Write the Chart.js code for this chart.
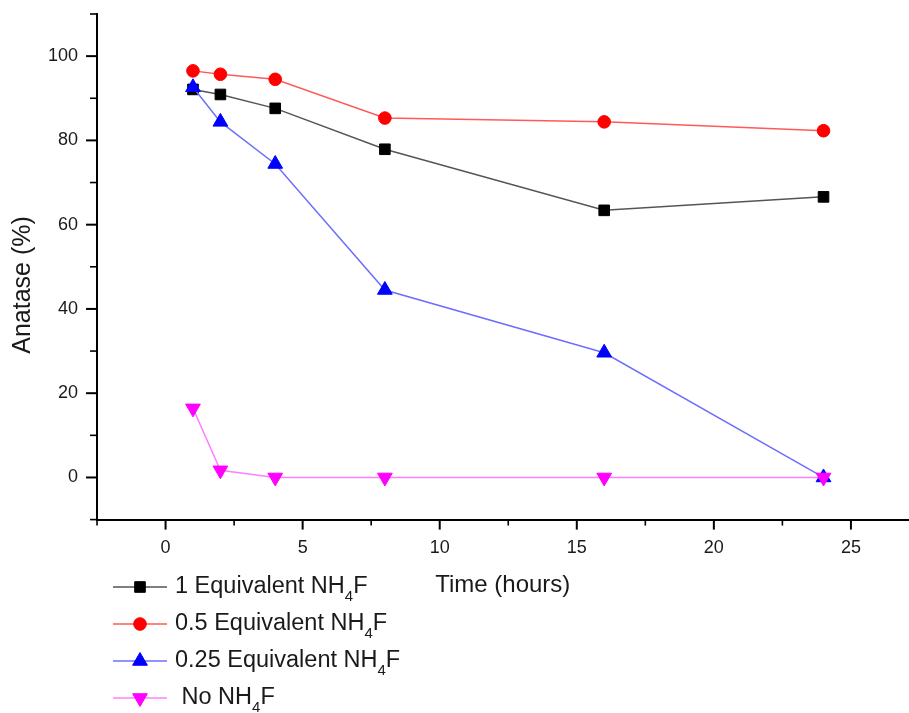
<!DOCTYPE html>
<html>
<head>
<meta charset="utf-8">
<script src="https://cdn.jsdelivr.net/npm/chart.js@4/dist/chart.umd.min.js"></script>
<style>
  html, body { margin: 0; padding: 0; background: #fff; overflow: hidden; }
  #wrap { width: 918px; height: 713px; position: relative; }
</style>
</head>
<body>
<div id="wrap"><canvas id="anataseChart"></canvas></div>
<script>
// time points (hours)
var hours = [1, 2, 4, 8, 16, 24];
// anatase (%) for each NH4F amount
var equiv1 = [92.1, 90.9, 87.6, 77.9, 63.4, 66.6];
var equiv05 = [96.5, 95.7, 94.5, 85.3, 84.4, 82.3];
var equiv025 = [92.6, 84.4, 74.4, 44.5, 29.6, 0];
var noNH4F = [16.4, 1.7, 0, 0, 0, 0];

var seriesNames = ['1 Equivalent NH', '0.5 Equivalent NH', '0.25 Equivalent NH', ' No NH'];
var xLabelStep = 5;   // x tick labels every 5 h
var yLabelStep = 20;  // y tick labels every 20 %

var FONT = '"Liberation Sans", Arial, sans-serif';

function pts(ys) {
    return hours.map(function (h, i) { return { x: h, y: ys[i] }; });
}

// minor/major tick marks drawn from the scales' own ticks, plus y title
var tickMarks = {
    id: 'tickMarks',
    afterDraw: function (chart) {
        var c = chart.ctx, a = chart.chartArea;
        c.save();
        c.strokeStyle = '#000';
        chart.scales.x.ticks.forEach(function (t) {
            var px = chart.scales.x.getPixelForValue(t.value);
            var major = Math.abs(t.value % xLabelStep) < 1e-6;
            c.lineWidth = major ? 2 : 1.6;
            c.beginPath();
            c.moveTo(px, a.bottom);
            c.lineTo(px, a.bottom + (major ? 10 : 6));
            c.stroke();
        });
        chart.scales.y.ticks.forEach(function (t) {
            var py = chart.scales.y.getPixelForValue(t.value);
            var major = Math.abs(t.value % yLabelStep) < 1e-6;
            c.lineWidth = major ? 2 : 1.6;
            c.beginPath();
            c.moveTo(a.left, py);
            c.lineTo(a.left - (major ? 11 : 7), py);
            c.stroke();
        });
        // y axis title sits a bit below the middle in the original
        c.translate(23, 285);
        c.rotate(-Math.PI / 2);
        c.fillStyle = '#1a1a1a';
        c.font = '25px ' + FONT;
        c.textAlign = 'center';
        c.textBaseline = 'middle';
        c.fillText('Anatase (%)', 0, 0);
        c.restore();
    }
};

// legend with NH4F subscript
var subLegend = {
    id: 'subLegend',
    afterDraw: function (chart) {
        var c = chart.ctx;
        var rows = [587, 624, 661, 698];
        c.save();
        chart.data.datasets.forEach(function (ds, i) {
            var y = rows[i];
            c.strokeStyle = ds.borderColor;
            c.lineWidth = 1.5;
            c.beginPath();
            c.moveTo(113, y);
            c.lineTo(167, y);
            c.stroke();
            c.fillStyle = ds.pointBackgroundColor;
            c.strokeStyle = ds.pointBackgroundColor;
            c.lineWidth = 1;
            Chart.helpers.drawPoint(c, {
                pointStyle: ds.pointStyle,
                rotation: ds.pointRotation || 0,
                radius: ds.pointRadius,
                borderWidth: 1
            }, 140, y);
            c.fillStyle = '#1a1a1a';
            c.textBaseline = 'middle';
            c.textAlign = 'left';
            c.font = '23.5px ' + FONT;
            var x = 175;
            c.fillText(seriesNames[i], x, y);
            x += c.measureText(seriesNames[i]).width;
            c.font = '15px ' + FONT;
            c.fillText('4', x, y + 10);
            x += c.measureText('4').width;
            c.font = '23.5px ' + FONT;
            c.fillText('F', x, y);
        });
        c.restore();
    }
};

var ctx = document.getElementById('anataseChart').getContext('2d');
var anataseChart = new Chart(ctx, {
    type: 'line',
    data: {
        datasets: [{
            label: '1 Equivalent NH4F',
            data: pts(equiv1),
            borderColor: '#555555',
            pointBackgroundColor: '#000000',
            pointBorderColor: '#000000',
            pointStyle: 'rect',
            pointRadius: 7.5,
            order: 3
        }, {
            label: '0.5 Equivalent NH4F',
            data: pts(equiv05),
            borderColor: '#ff5a5a',
            pointBackgroundColor: '#ff0000',
            pointBorderColor: '#ff0000',
            pointStyle: 'circle',
            pointRadius: 6.3,
            order: 2
        }, {
            label: '0.25 Equivalent NH4F',
            data: pts(equiv025),
            borderColor: '#6f6fff',
            pointBackgroundColor: '#0000ff',
            pointBorderColor: '#0000ff',
            pointStyle: 'triangle',
            pointRadius: 8.5,
            order: 1
        }, {
            label: 'No NH4F',
            data: pts(noNH4F),
            borderColor: '#ff80ff',
            pointBackgroundColor: '#ff00ff',
            pointBorderColor: '#ff00ff',
            pointStyle: 'triangle',
            pointRotation: 180,
            pointRadius: 8.5,
            order: 0
        }]
    },
    options: {
        responsive: true,
        maintainAspectRatio: false,
        animation: false,
        elements: {
            line: { borderWidth: 1.5, tension: 0 },
            point: { borderWidth: 1, hoverRadius: 8 }
        },
        layout: { padding: { left: 0, right: 0, top: 14, bottom: 113 } },
        plugins: {
            legend: { display: false },
            tooltip: { enabled: false }
        },
        scales: {
            x: {
                type: 'linear',
                min: -2.5,
                max: 27.1,
                border: { display: true, color: '#000', width: 2 },
                // tick marks are drawn by tickMarks; this length only keeps the room
                grid: { drawOnChartArea: false, tickColor: 'rgba(0,0,0,0)', tickLength: 18 },
                ticks: {
                    stepSize: 2.5,
                    includeBounds: false,
                    autoSkip: false,
                    maxRotation: 0,
                    padding: 0,
                    color: '#1a1a1a',
                    font: { family: FONT, size: 18 },
                    callback: function (v) { return (v >= 0 && Math.abs(v % xLabelStep) < 1e-6) ? v : ''; }
                },
                title: {
                    display: true,
                    text: 'Time (hours)',
                    color: '#1a1a1a',
                    font: { family: FONT, size: 24 },
                    padding: { top: 12, bottom: 0 }
                }
            },
            y: {
                min: -10,
                max: 110,
                border: { display: true, color: '#000', width: 2 },
                grid: { drawOnChartArea: false, tickColor: 'rgba(0,0,0,0)', tickLength: 19 },
                ticks: {
                    stepSize: 10,
                    autoSkip: false,
                    padding: 0,
                    color: '#1a1a1a',
                    font: { family: FONT, size: 18 },
                    callback: function (v) { return (v >= 0 && v <= 100 && v % yLabelStep === 0) ? v : ''; }
                },
                title: {
                    // space kept here; the text itself is drawn by tickMarks
                    display: true,
                    text: 'Anatase (%)',
                    color: 'rgba(0,0,0,0)',
                    font: { family: FONT, size: 25 },
                    padding: { top: 8, bottom: 10 }
                }
            }
        }
    },
    plugins: [tickMarks, subLegend]
});
</script>
</body>
</html>
